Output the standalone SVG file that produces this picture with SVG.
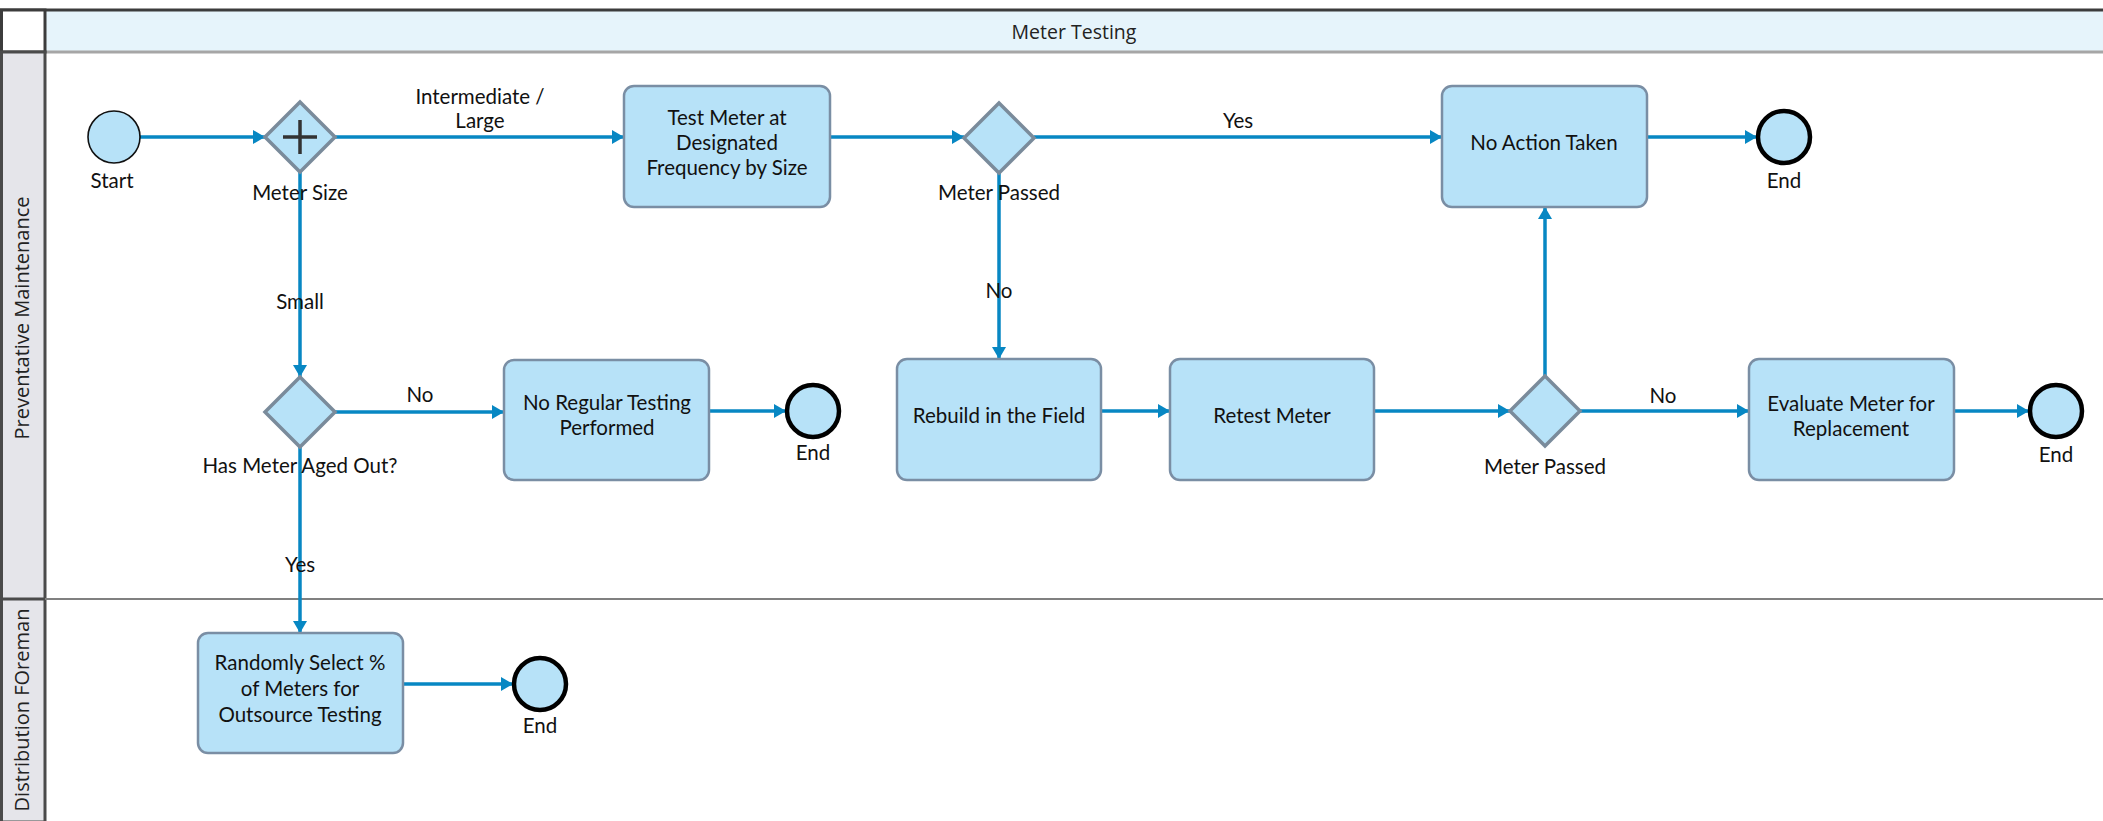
<svg xmlns="http://www.w3.org/2000/svg" width="2103" height="821" viewBox="0 0 2103 821">
<style>
.task{fill:#b7e2f8;stroke:#7a8ea4;stroke-width:2.5}
.gw{fill:#b7e2f8;stroke:#7a8b9b;stroke-width:3.5}
.start{fill:#b7e2f8;stroke:#111;stroke-width:1.6}
.end{fill:#b7e2f8;stroke:#000;stroke-width:4.5}
.t{font-family:Lato,"Liberation Sans",sans-serif;font-size:20.5px;fill:#111;text-anchor:middle}
.lane{font-family:"Open Sans","Noto Sans",sans-serif;font-size:20px;fill:#222;text-anchor:middle}
.hdr{font-family:"Open Sans","Noto Sans",sans-serif;font-size:19.5px;fill:#222;text-anchor:middle}
.c{fill:none;stroke:#0787c3;stroke-width:3.5;marker-end:url(#ah)}
</style>
<defs>
<marker id="ah" viewBox="0 0 12 14" refX="12" refY="7" markerWidth="12" markerHeight="14" markerUnits="userSpaceOnUse" orient="auto">
<path d="M0,0 L12,7 L0,14 Z" fill="#0787c3"/>
</marker>
</defs>
<rect x="0" y="0" width="2103" height="821" fill="#fff"/>
<g id="pool">
<rect x="45" y="10" width="2058" height="42" fill="#e6f4fb"/>
<line x1="45" y1="52" x2="2103" y2="52" stroke="#a6a6a6" stroke-width="3"/>
<line x1="0" y1="10" x2="2103" y2="10" stroke="#3c3c3c" stroke-width="3"/>
<rect x="1.5" y="10" width="43.5" height="42" fill="#fff" stroke="#3c3c3c" stroke-width="3"/>
<rect x="1.5" y="52" width="43.5" height="770" fill="#e5e5ea" stroke="#4a4a4a" stroke-width="3"/>
<line x1="45" y1="599" x2="2103" y2="599" stroke="#808080" stroke-width="2"/>
<line x1="1" y1="599" x2="45" y2="599" stroke="#4a4a4a" stroke-width="3"/>
<text class="hdr" x="1074" y="39">Meter Testing</text>
<text class="lane" transform="translate(29,318) rotate(-90)">Preventative Maintenance</text>
<text class="lane" transform="translate(29,710) rotate(-90)">Distribution FOreman</text>
</g>
<g id="connectors">
<line class="c" x1="140" y1="137" x2="265" y2="137"/>
<line class="c" x1="335" y1="137" x2="624" y2="137"/>
<line class="c" x1="830" y1="137" x2="964" y2="137"/>
<line class="c" x1="1034" y1="137" x2="1442" y2="137"/>
<line class="c" x1="1647" y1="137" x2="1757" y2="137"/>
<line class="c" x1="300" y1="172" x2="300" y2="377"/>
<line class="c" x1="335" y1="412" x2="504" y2="412"/>
<line class="c" x1="709" y1="411" x2="786" y2="411"/>
<line class="c" x1="300" y1="447" x2="300" y2="633"/>
<line class="c" x1="403" y1="684" x2="513" y2="684"/>
<line class="c" x1="999" y1="173" x2="999" y2="359"/>
<line class="c" x1="1101" y1="411" x2="1170" y2="411"/>
<line class="c" x1="1374" y1="411" x2="1510" y2="411"/>
<line class="c" x1="1545" y1="376" x2="1545" y2="207"/>
<line class="c" x1="1580" y1="411" x2="1749" y2="411"/>
<line class="c" x1="1954" y1="411" x2="2029" y2="411"/>
<text class="t" x="480" y="104">Intermediate /</text>
<text class="t" x="480" y="128">Large</text>
<text class="t" x="1238" y="128">Yes</text>
<text class="t" x="999" y="298">No</text>
<text class="t" x="300" y="309">Small</text>
<text class="t" x="420" y="402">No</text>
<text class="t" x="300" y="572">Yes</text>
<text class="t" x="1663" y="403">No</text>
</g>
<g id="start">
<circle class="start" cx="114" cy="137" r="26"/>
<text class="t" x="112" y="188">Start</text>
</g>
<g id="gw-meter-size">
<path class="gw" d="M300,102 L335,137 L300,172 L265,137 Z"/>
<path d="M300,120 V154 M283,137 H317" stroke="#333" stroke-width="3.5"/>
<text class="t" x="300" y="200">Meter Size</text>
</g>
<g id="task-test">
<rect class="task" x="624" y="86" width="206" height="121" rx="10"/>
<text class="t" x="727" y="125">Test Meter at</text>
<text class="t" x="727" y="150">Designated</text>
<text class="t" x="727" y="175">Frequency by Size</text>
</g>
<g id="gw-passed-1">
<path class="gw" d="M999,103 L1034,138 L999,173 L964,138 Z"/>
<text class="t" x="999" y="200">Meter Passed</text>
</g>
<g id="task-no-action">
<rect class="task" x="1442" y="86" width="205" height="121" rx="10"/>
<text class="t" x="1544" y="150">No Action Taken</text>
</g>
<g id="end-1">
<circle class="end" cx="1784" cy="137" r="26"/>
<text class="t" x="1784" y="188">End</text>
</g>
<g id="gw-aged">
<path class="gw" d="M300,377 L335,412 L300,447 L265,412 Z"/>
<text class="t" x="300" y="473">Has Meter Aged Out?</text>
</g>
<g id="task-no-regular">
<rect class="task" x="504" y="360" width="205" height="120" rx="10"/>
<text class="t" x="607" y="410">No Regular Testing</text>
<text class="t" x="607" y="435">Performed</text>
</g>
<g id="end-2">
<circle class="end" cx="813" cy="411" r="26"/>
<text class="t" x="813" y="460">End</text>
</g>
<g id="task-rebuild">
<rect class="task" x="897" y="359" width="204" height="121" rx="10"/>
<text class="t" x="999" y="423">Rebuild in the Field</text>
</g>
<g id="task-retest">
<rect class="task" x="1170" y="359" width="204" height="121" rx="10"/>
<text class="t" x="1272" y="423">Retest Meter</text>
</g>
<g id="gw-passed-2">
<path class="gw" d="M1545,376 L1580,411 L1545,446 L1510,411 Z"/>
<text class="t" x="1545" y="474">Meter Passed</text>
</g>
<g id="task-evaluate">
<rect class="task" x="1749" y="359" width="205" height="121" rx="10"/>
<text class="t" x="1851" y="411">Evaluate Meter for</text>
<text class="t" x="1851" y="436">Replacement</text>
</g>
<g id="end-3">
<circle class="end" cx="2056" cy="411" r="26"/>
<text class="t" x="2056" y="462">End</text>
</g>
<g id="task-random">
<rect class="task" x="198" y="633" width="205" height="120" rx="10"/>
<text class="t" x="300" y="670">Randomly Select %</text>
<text class="t" x="300" y="696">of Meters for</text>
<text class="t" x="300" y="722">Outsource Testing</text>
</g>
<g id="end-4">
<circle class="end" cx="540" cy="684" r="26"/>
<text class="t" x="540" y="733">End</text>
</g>
</svg>
